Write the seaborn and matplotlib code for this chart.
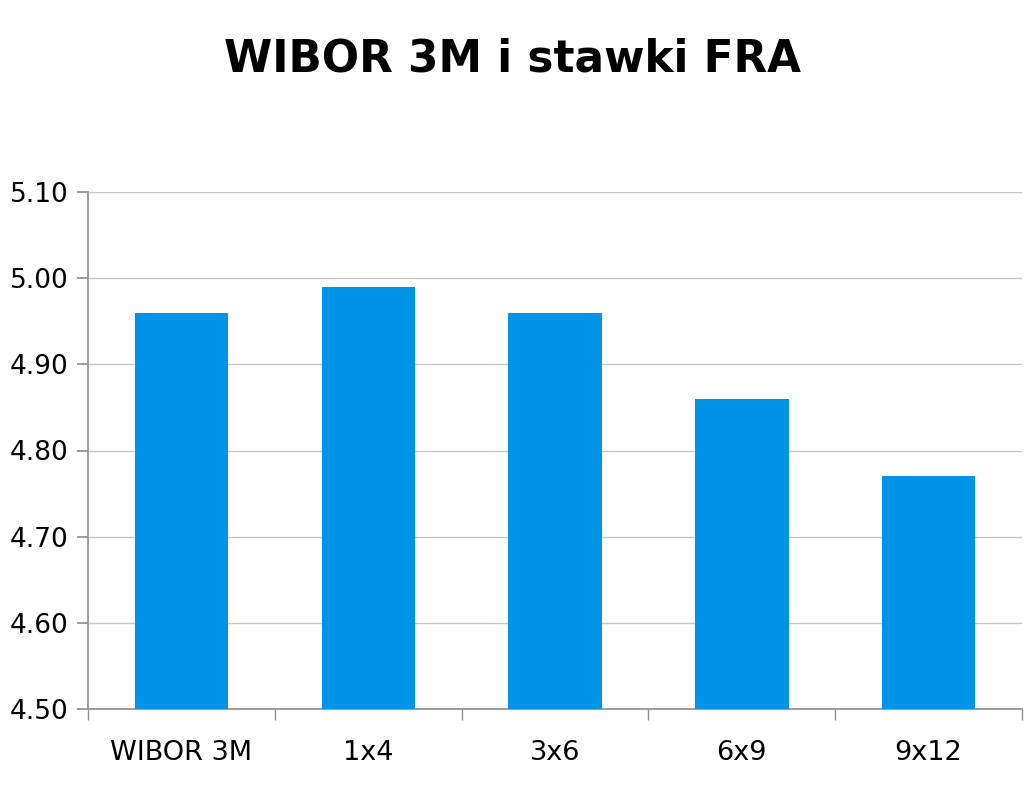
import seaborn as sns
import matplotlib.pyplot as plt
import matplotlib.ticker as mticker
import pandas as pd

# data
kategorie = ["WIBOR 3M", "1x4", "3x6", "6x9", "9x12"]
stawki = [4.96, 4.99, 4.96, 4.86, 4.77]

df = pd.DataFrame({"kategoria": kategorie, "stawka": stawki})

sns.set_theme(style="white")
plt.rcParams["font.family"] = ["DejaVu Sans"]
plt.rcParams["text.color"] = "black"
plt.rcParams["xtick.color"] = "black"
plt.rcParams["ytick.color"] = "black"

fig = plt.figure(figsize=(10.24, 7.91), dpi=100)
ax = fig.add_axes([88 / 1024, 82 / 791, (1022 - 88) / 1024, (709 - 192) / 791])

sns.barplot(data=df, x="kategoria", y="stawka", color="#0094E8",
            saturation=1, width=0.5, linewidth=0, ax=ax, zorder=3)

ax.set_ylim(4.5, 5.1)
ax.set_xlim(-0.5, 4.5)
ax.yaxis.set_major_locator(mticker.MultipleLocator(0.1))
ax.yaxis.set_major_formatter(mticker.FormatStrFormatter("%.2f"))
ax.grid(True, axis="y", color="#c8c8c8", linewidth=1, zorder=0)

for s in ["top", "right"]:
    ax.spines[s].set_visible(False)
ax.spines["left"].set_color("#909090")
ax.spines["bottom"].set_color("#909090")

# tick marks between categories
ax.set_xticks([0, 1, 2, 3, 4])
ax.set_xticks([-0.5, 0.5, 1.5, 2.5, 3.5, 4.5], minor=True)
ax.tick_params(axis="x", which="major", length=0, pad=22, labelsize=19.5,
               labelcolor="black")
ax.tick_params(axis="x", which="minor", length=8, color="#909090", bottom=True)
ax.tick_params(axis="y", length=8, color="#909090", left=True, labelsize=19,
               pad=6, labelcolor="black")

ax.set_xlabel("")
ax.set_ylabel("")

fig.text(0.5, 0.925, "WIBOR 3M i stawki FRA", ha="center", va="center",
         fontsize=31.5, fontweight="bold", color="black")

plt.savefig("out.png", dpi=100)
